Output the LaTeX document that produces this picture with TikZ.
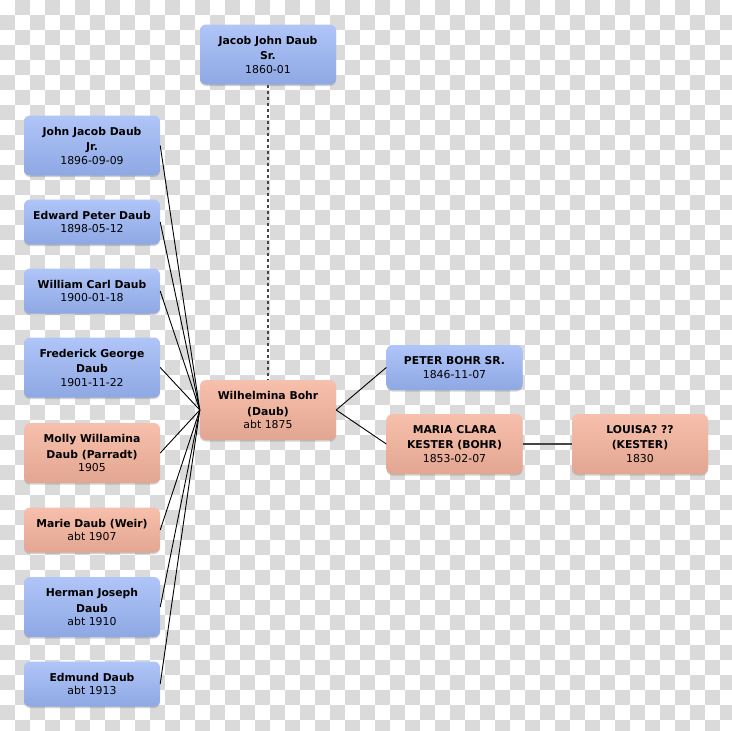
\documentclass[tikz,border=0pt]{standalone}
\usepackage{fontspec}
\setmainfont{DejaVu Sans}
\usetikzlibrary{shadows}
\definecolor{chk}{RGB}{218,218,218}
\definecolor{btop}{RGB}{176,197,248}
\definecolor{bbot}{RGB}{142,168,228}
\definecolor{stop}{RGB}{247,192,172}
\definecolor{sbot}{RGB}{226,166,146}
\definecolor{dotc}{RGB}{70,70,70}
\newcommand{\dt}[1]{{\fontsize{10.9}{12}\selectfont\mdseries #1}}
\tikzset{
  person/.style={rounded corners=6pt, minimum width=136pt, inner sep=2pt,
    align=center, font=\fontsize{10.8}{15.5}\selectfont\bfseries,
    drop shadow={opacity=0.35, shadow xshift=0pt, shadow yshift=-1.5pt}},
  male/.style={person, top color=btop, bottom color=bbot},
  female/.style={person, top color=stop, bottom color=sbot},
  tall/.style={minimum height=60pt},
  short/.style={minimum height=45pt},
  link/.style={black, line width=0.9pt},
  dotlink/.style={dotc, line width=2pt, dash pattern=on 3pt off 3pt},
  spouse/.style={dotc, line width=2pt}
}
\begin{document}
\begin{tikzpicture}[x=1pt,y=-1pt]
\useasboundingbox (0,0) rectangle (732,731);
\fill[white] (0,0) rectangle (732,731);
\foreach \i in {0,...,48}{
  \foreach \j in {0,...,48}{
    \pgfmathparse{int(mod(\i+\j,2))}
    \ifnum\pgfmathresult=1
      \fill[chk] (\i*15,\j*15) rectangle ++(15,15);
    \fi
  }
}
% nodes
\node[male,tall] (jac) at (268,54.5) {Jacob John Daub\\Sr.\\[-2pt]\dt{1860-01}};
\node[male,tall] (jj) at (92,145.5) {John Jacob Daub\\Jr.\\[-2pt]\dt{1896-09-09}};
\node[male,short] (ed) at (92,222) {Edward Peter Daub\\[-2pt]\dt{1898-05-12}};
\node[male,short] (wc) at (92,291) {William Carl Daub\\[-2pt]\dt{1900-01-18}};
\node[male,tall] (fg) at (92,367.5) {Frederick George\\Daub\\[-2pt]\dt{1901-11-22}};
\node[female,tall] (mo) at (92,453) {Molly Willamina\\Daub (Parradt)\\[-2pt]\dt{1905}};
\node[female,short] (ma) at (92,530) {Marie Daub (Weir)\\[-2pt]\dt{abt 1907}};
\node[male,tall] (he) at (92,607) {Herman Joseph\\Daub\\[-2pt]\dt{abt 1910}};
\node[male,short] (em) at (92,684) {Edmund Daub\\[-2pt]\dt{abt 1913}};
\node[female,tall] (wil) at (268,410) {Wilhelmina Bohr\\(Daub)\\[-2pt]\dt{abt 1875}};
\node[male,short] (pb) at (454.5,367.5) {PETER BOHR SR.\\[-2pt]\dt{1846-11-07}};
\node[female,tall] (mck) at (454.5,444) {MARIA CLARA\\KESTER (BOHR)\\[-2pt]\dt{1853-02-07}};
\node[female,tall] (lou) at (640,444) {LOUISA? ??\\(KESTER)\\[-2pt]\dt{1830}};
% connectors
\draw[dotlink] (jac.south) -- (wil.north);
\foreach \c in {jj,ed,wc,fg,mo,ma,he,em}{
  \draw[link] (\c.east) -- (wil.west);
}
\draw[link] (wil.east) -- (pb.west);
\draw[link] (wil.east) -- (mck.west);
\draw[spouse] (mck.east) -- (lou.west);
\end{tikzpicture}
\end{document}
